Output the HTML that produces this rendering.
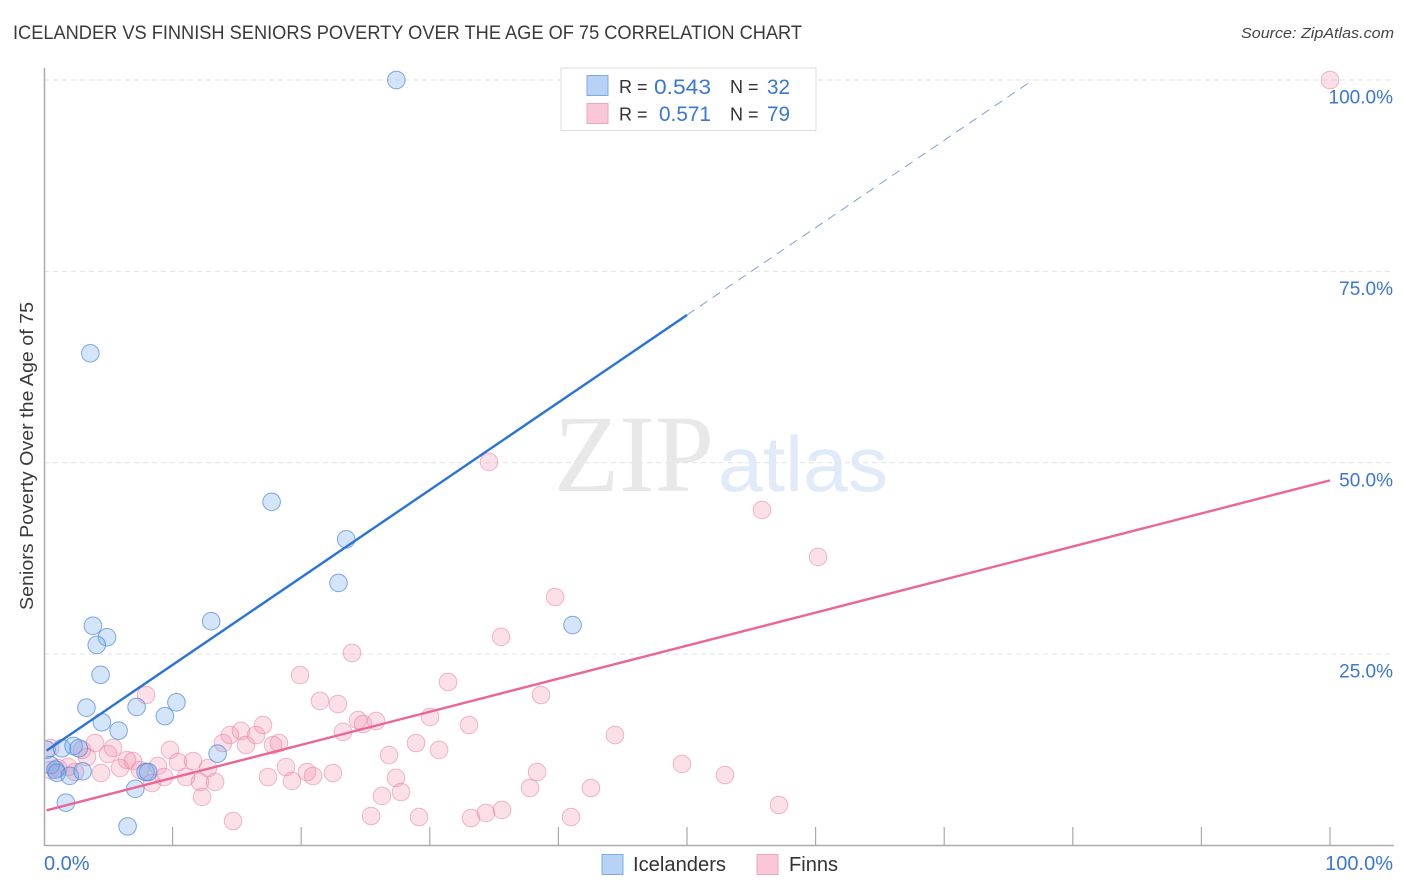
<!DOCTYPE html>
<html lang="en">
<head>
<meta charset="utf-8">
<title>Icelander vs Finnish Seniors Poverty Over the Age of 75 Correlation Chart</title>
<style>
html,body{margin:0;padding:0;background:#fff;width:1406px;height:892px;overflow:hidden}
svg{display:block;font-family:"Liberation Sans",sans-serif}
</style>
</head>
<body>
<svg id="chart" xmlns="http://www.w3.org/2000/svg" width="1406" height="892" viewBox="0 0 1406 892">
  <defs><clipPath id="plot-clip"><rect x="45.5" y="60" width="1360" height="785"/></clipPath></defs>
  <text x="13" y="39" font-size="19" fill="#3a3a3a" textLength="789" lengthAdjust="spacingAndGlyphs">ICELANDER VS FINNISH SENIORS POVERTY OVER THE AGE OF 75 CORRELATION CHART</text>
  <text x="1394" y="38" font-size="15" font-style="italic" fill="#444" text-anchor="end" textLength="153" lengthAdjust="spacingAndGlyphs">Source: ZipAtlas.com</text>
  <g id="grid"></g>
  <g>
    <text x="554" y="491" font-family="'Liberation Serif',serif" font-size="110" fill="#e8e8e8" textLength="160" lengthAdjust="spacingAndGlyphs">ZIP</text>
    <text x="718" y="491" font-size="78" fill="#e0eaf9" textLength="170" lengthAdjust="spacingAndGlyphs">atlas</text>
  </g>
  <g id="axes">
    <line x1="44.5" y1="68" x2="44.5" y2="846" stroke="#aaa" stroke-width="1.5"/>
    <line x1="44" y1="845.5" x2="1394" y2="845.5" stroke="#aaa" stroke-width="1.5"/>
  </g>
  <g id="x-ticks"></g>
  <g id="y-labels"></g>
  <g id="x-labels"></g>
  <g id="points" clip-path="url(#plot-clip)"></g>
  <g id="trends"></g>
  <text transform="translate(33,456) rotate(-90)" font-size="18.5" fill="#3a3a3a" text-anchor="middle" textLength="308" lengthAdjust="spacingAndGlyphs">Seniors Poverty Over the Age of 75</text>

  <g>
    <rect x="561" y="68" width="255" height="62.5" fill="#fff" stroke="#dcdcdc" stroke-width="1"/>
    <rect x="587" y="75.5" width="21" height="20" fill="#b6d2f6" stroke="#7fabe2" stroke-width="1"/>
    <rect x="587" y="103.5" width="21" height="20" fill="#fac7d8" stroke="#eda5bd" stroke-width="1"/>
    <text x="619" y="93" font-size="18" fill="#333">R =</text>
    <text x="654" y="94" font-size="21" fill="#3a76d4" textLength="57" lengthAdjust="spacingAndGlyphs">0.543</text>
    <text x="730" y="93" font-size="18" fill="#333">N =</text>
    <text x="767" y="94" font-size="21" fill="#3a76d4" textLength="23" lengthAdjust="spacingAndGlyphs">32</text>
    <text x="619" y="120.5" font-size="18" fill="#333">R =</text>
    <text x="659" y="121" font-size="21" fill="#3a76d4" textLength="52" lengthAdjust="spacingAndGlyphs">0.571</text>
    <text x="730" y="120.5" font-size="18" fill="#333">N =</text>
    <text x="767" y="121" font-size="21" fill="#3a76d4" textLength="23" lengthAdjust="spacingAndGlyphs">79</text>
  </g>

  <g>
    <rect x="602" y="854.5" width="21" height="20" fill="#b6d2f6" stroke="#7fabe2" stroke-width="1"/>
    <text x="633" y="871" font-size="20" fill="#333" textLength="93" lengthAdjust="spacingAndGlyphs">Icelanders</text>
    <rect x="757" y="854.5" width="21" height="20" fill="#fac7d8" stroke="#eda5bd" stroke-width="1"/>
    <text x="789" y="871" font-size="20" fill="#333" textLength="49" lengthAdjust="spacingAndGlyphs">Finns</text>
  </g>
</svg>
<script>
var xTickValues = [10,20,30,40,50,60,70,80,90,100];
var yGridValues = [25,50,75,100];
var yTickLabels = ["25.0%","50.0%","75.0%","100.0%"];
var xTickLabels = ["0.0%","100.0%"];
var xLabelValues = [0,100];

var icelanderX = [27.4,3.6,17.7,23.5,22.9,13.0,41.1,3.8,4.9,4.1,4.4,10.3,3.3,7.2,9.4,4.5,5.8,13.5,0.2,1.4,2.3,2.7,0.5,0.9,1.0,2.0,3.0,7.9,8.1,7.1,1.7,6.5];
var icelanderY = [100,64.3,44.9,40.0,34.3,29.3,28.8,28.7,27.2,26.2,22.3,18.7,18.0,18.1,16.9,16.1,15.0,12.0,12.5,12.7,13.0,12.7,10.5,9.9,9.5,9.1,9.7,9.6,9.6,7.4,5.6,2.5];

var finnX = [7.93,19.91,21.46,22.86,23.25,3.97,5.37,4.98,3.34,2.95,6.45,6.92,5.91,4.43,9.80,10.42,11.59,8.86,7.47,9.33,8.40,12.75,11.04,12.13,13.30,12.29,14.70,13.92,14.46,15.32,15.71,16.49,17.03,17.81,18.27,17.42,18.82,19.28,20.45,20.92,22.47,0.47,1.87,0.47,1.09,2.41,23.95,35.54,31.42,38.65,24.42,24.81,25.82,30.02,33.05,28.93,30.72,26.83,27.37,26.28,27.76,25.43,29.16,33.20,34.37,35.61,38.34,37.79,42.53,40.98,44.40,100,34.60,55.83,60.19,39.74,49.61,52.95,57.15];
var finnY = [19.66,22.27,18.88,18.48,14.83,13.39,12.74,11.95,11.56,12.48,11.17,11.04,10.12,9.47,12.48,10.91,11.04,10.39,9.86,8.95,8.16,10.12,8.95,8.30,8.30,6.34,3.20,13.39,14.43,14.96,13.13,14.43,15.74,13.13,13.39,8.95,10.25,8.43,9.60,9.08,9.47,12.74,10.25,9.86,10.12,9.60,25.15,27.24,21.36,19.66,16.39,15.87,16.26,16.79,15.74,13.39,12.48,11.82,8.82,6.47,6.99,3.85,3.72,3.59,4.25,4.64,9.60,7.51,7.51,3.72,14.43,100,50.10,43.83,37.69,32.46,10.65,9.21,5.29];

var icelanderTrendX = [0.2,50,76.9];
var icelanderTrendY = [12.4,69.3,100];
var finnTrendX = [0.2,100];
var finnTrendY = [4.6,47.7];

var NS = "http://www.w3.org/2000/svg";
function xScale(v){ return 44 + v * 12.86; }
function yScale(v){ return 845.5 - v * 7.655; }
function make(tag, attrs, parent){
  var el = document.createElementNS(NS, tag);
  for (var k in attrs) el.setAttribute(k, attrs[k]);
  parent.appendChild(el);
  return el;
}

var gridG = document.getElementById("grid");
yGridValues.forEach(function(v){
  var ln = make("line", {x1:44, x2:1394, y1:yScale(v), y2:yScale(v), stroke:"#e2e2e2", "stroke-width":1, "stroke-dasharray":"5 4"}, gridG);
  
  
});

var ticksG = document.getElementById("x-ticks");
xTickValues.forEach(function(v){
  var t = make("line", {x1:xScale(v), x2:xScale(v), y1:827, y2:845, stroke:"#aaa", "stroke-width":1.2}, ticksG);
  
  
});

var yLabG = document.getElementById("y-labels");
yGridValues.forEach(function(v,i){
  var t = make("text", {x:1393, y:yScale(v)+23.5, "font-size":19, fill:"#3a76d4", "text-anchor":"end"}, yLabG);
  
  
  t.textContent = yTickLabels[i];
});

var xLabG = document.getElementById("x-labels");
xLabelValues.forEach(function(v,i){
  var right = v === 100;
  var t = make("text", {x: right ? 1393 : 44, y:870, "font-size":20, fill:"#3a76d4", "text-anchor": right ? "end" : "start"}, xLabG);
  
  
  t.textContent = xTickLabels[i];
});

var ptsG = document.getElementById("points");
finnX.forEach(function(v,i){
  var c = make("circle", {cx:xScale(v), cy:yScale(finnY[i]), r:8.8, fill:"#f28cab", "fill-opacity":0.27, stroke:"#e87fa2", "stroke-opacity":0.55, "stroke-width":1}, ptsG);
  
  
});
icelanderX.forEach(function(v,i){
  var c = make("circle", {cx:xScale(v), cy:yScale(icelanderY[i]), r:8.8, fill:"#6fa6ec", "fill-opacity":0.3, stroke:"#3f80d8", "stroke-opacity":0.65, "stroke-width":1}, ptsG);
  
  
});

var trG = document.getElementById("trends");
var lnB = make("line", {x1:xScale(icelanderTrendX[0]), y1:yScale(icelanderTrendY[0]), x2:xScale(icelanderTrendX[1]), y2:yScale(icelanderTrendY[1]), stroke:"#2a74d8", "stroke-width":2.4}, trG);


var lnBd = make("line", {x1:xScale(icelanderTrendX[1]), y1:yScale(icelanderTrendY[1]), x2:xScale(icelanderTrendX[2]), y2:yScale(icelanderTrendY[2]), stroke:"#7f9fd8", "stroke-width":1, "stroke-dasharray":"9 6.5"}, trG);


var lnP = make("line", {x1:xScale(finnTrendX[0]), y1:yScale(finnTrendY[0]), x2:xScale(finnTrendX[1]), y2:yScale(finnTrendY[1]), stroke:"#ea6694", "stroke-width":2.4}, trG);


</script>
</body>
</html>
